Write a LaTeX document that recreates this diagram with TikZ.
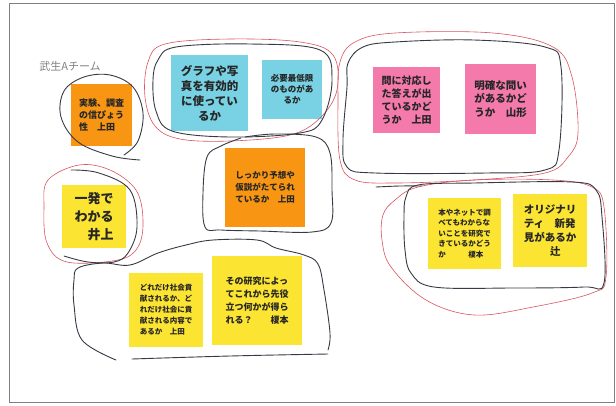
\documentclass[tikz,border=0pt]{standalone}
\usepackage{fontspec}
\usepackage{tikz}
\usetikzlibrary{calc,positioning}
\newfontfamily\jp{Noto Sans CJK JP}
\definecolor{orangenote}{RGB}{248,150,20}
\definecolor{bluenote}{RGB}{120,210,228}
\definecolor{pinknote}{RGB}{245,122,172}
\definecolor{yellownote}{RGB}{252,228,50}
\definecolor{loopblack}{RGB}{55,58,68}
\definecolor{loopred}{RGB}{215,85,95}

\begin{document}
\begin{tikzpicture}[x=1pt,y=-1pt,
    note/.style={inner sep=0pt, font=\jp\bfseries, text=black!85, align=left},
    blackloop/.style={draw=loopblack, line width=0.9pt, line cap=round, smooth, tension=0.6},
    redloop/.style={draw=loopred, line width=0.6pt, line cap=round, smooth, tension=0.6}]
    \useasboundingbox (0,0) rectangle (616,405);
    \draw[gray, line width=0.8pt] (9,3) rectangle (614,402);
    
    \node[font=\jp\fontsize{11}{13}\selectfont, text=gray] (team) at (70,66) {武生Aチーム};
    
    % sticky notes
    \node[note, fill=orangenote, minimum width=61pt, minimum height=62pt, font=\jp\bfseries\fontsize{9}{12}\selectfont] (jikken) at (101.5,115) {実験、調査\\の信ぴょう\\性　上田};
    \node[note, fill=bluenote, minimum width=77pt, minimum height=76pt, align=center, font=\jp\bfseries\fontsize{11.5}{15}\selectfont] (graph) at (209.5,93) {グラフや写\\真を有効的\\に使ってい\\るか};
    \node[note, fill=bluenote, minimum width=60pt, minimum height=59pt, align=center, font=\jp\bfseries\fontsize{8.5}{11}\selectfont] (hitsuyo) at (292,89.5) {必要最低限\\のものがあ\\るか};
    \node[note, fill=orangenote, minimum width=80pt, minimum height=79pt, font=\jp\bfseries\fontsize{8.5}{12}\selectfont] (yoso) at (265,187.5) {しっかり予想や\\仮説がたてられ\\ているか　上田};
    \node[note, fill=yellownote, minimum width=64pt, minimum height=63pt, font=\jp\bfseries\fontsize{13}{18}\selectfont] (ippatsu) at (94,216.5) {一発で\\わかる\\　井上};
    \node[note, fill=pinknote, minimum width=67pt, minimum height=66pt, font=\jp\bfseries\fontsize{10}{13}\selectfont] (kotae) at (406.5,100) {問に対応し\\た答えが出\\ているかど\\うか　上田};
    \node[note, fill=pinknote, minimum width=71pt, minimum height=70pt, font=\jp\bfseries\fontsize{10.5}{13.5}\selectfont] (toi) at (500.5,99) {明確な問い\\があるかど\\うか　山形};
    \node[note, fill=yellownote, minimum width=73pt, minimum height=71pt, font=\jp\bfseries\fontsize{7.5}{10.5}\selectfont] (net) at (464.5,233.5) {本やネットで調\\べてもわからな\\いことを研究で\\きているかどう\\か　　　榎本};
    \node[note, fill=yellownote, minimum width=74pt, minimum height=73pt, font=\jp\bfseries\fontsize{10.5}{14}\selectfont] (original) at (550,230.5) {オリジナリ\\ティ　新発\\見があるか\\\hspace{2.5em}辻};
    \node[note, fill=yellownote, minimum width=74pt, minimum height=74pt, font=\jp\bfseries\fontsize{7.5}{11}\selectfont] (shakai) at (166,310) {どれだけ社会貢\\献されるか、ど\\れだけ社会に貢\\献される内容で\\あるか　上田};
    \node[note, fill=yellownote, minimum width=90pt, minimum height=89pt, font=\jp\bfseries\fontsize{9}{13}\selectfont] (yakudatsu) at (257,300.5) {その研究によっ\\てこれから先役\\立つ何かが得ら\\れる？　　榎本};
    
    % hand drawn loops
    \draw[blackloop] plot coordinates {(140,160) (112,156) (78,142) (61,117) (64,91) (84,77) (110,75) (133,87) (143,113) (138,141) (124,155)};
    
    \draw[redloop] plot[smooth cycle] coordinates {(165,44) (230,39) (300,42) (333,55) (337,90) (320,118) (290,135) (230,141) (180,139) (155,126) (145,97) (148,62)};
    \draw[blackloop] plot[smooth cycle] coordinates {(176,47) (250,44) (320,50) (332,80) (322,120) (300,133) (230,137) (172,131) (156,111) (153,80) (158,60)};
    
    \draw[blackloop] plot coordinates {(245,137) (275,134) (316,137) (330,153) (332,190) (331,223) (312,232) (260,231) (221,230) (205,227) (203,193) (207,157) (221,146) (241,138)};
    
    \draw[redloop] plot[smooth cycle] coordinates {(79,165) (110,170) (136,190) (143,220) (138,247) (118,260) (67,262) (47,243) (44,207) (48,180)};
    \draw[blackloop] plot coordinates {(71,170) (99,173) (130,190) (137,227) (128,253) (114,262) (88,262) (64,256)};
    
    \draw[blackloop] plot coordinates {(116,360) (82,340) (74,305) (74,280) (78,268) (103,263) (130,265) (158,253) (186,245) (213,240) (257,240) (276,248) (304,255) (318,264) (324,290) (330,333) (328,350)};
    \draw[blackloop] plot coordinates {(132,359) (230,356) (328,354)};
    
    \draw[redloop] plot[smooth cycle] coordinates {(355,42) (395,33) (493,33) (553,47) (572,77) (578,133) (568,157) (545,173) (474,180) (395,183) (355,180) (340,160) (338,100) (340,62)};
    \draw[blackloop] plot[smooth cycle] coordinates {(363,47) (395,42) (474,40) (545,47) (561,67) (559,150) (545,170) (486,173) (375,173) (347,167) (343,140) (347,87) (348,63)};
    \draw[blackloop] plot coordinates {(376,187) (400,186) (422,186)};
    
    \draw[redloop] plot[smooth cycle] coordinates {(395,200) (418,187) (474,180) (553,180) (592,187) (604,207) (606,277) (592,293) (533,307) (474,315) (426,300) (391,267) (382,240) (383,215)};
    \draw[blackloop] plot[smooth cycle] coordinates {(418,185) (474,183) (572,182) (596,190) (602,217) (604,283) (584,287) (513,288) (434,287) (411,273) (405,250) (404,217) (406,197)};
\end{tikzpicture}
\end{document}
